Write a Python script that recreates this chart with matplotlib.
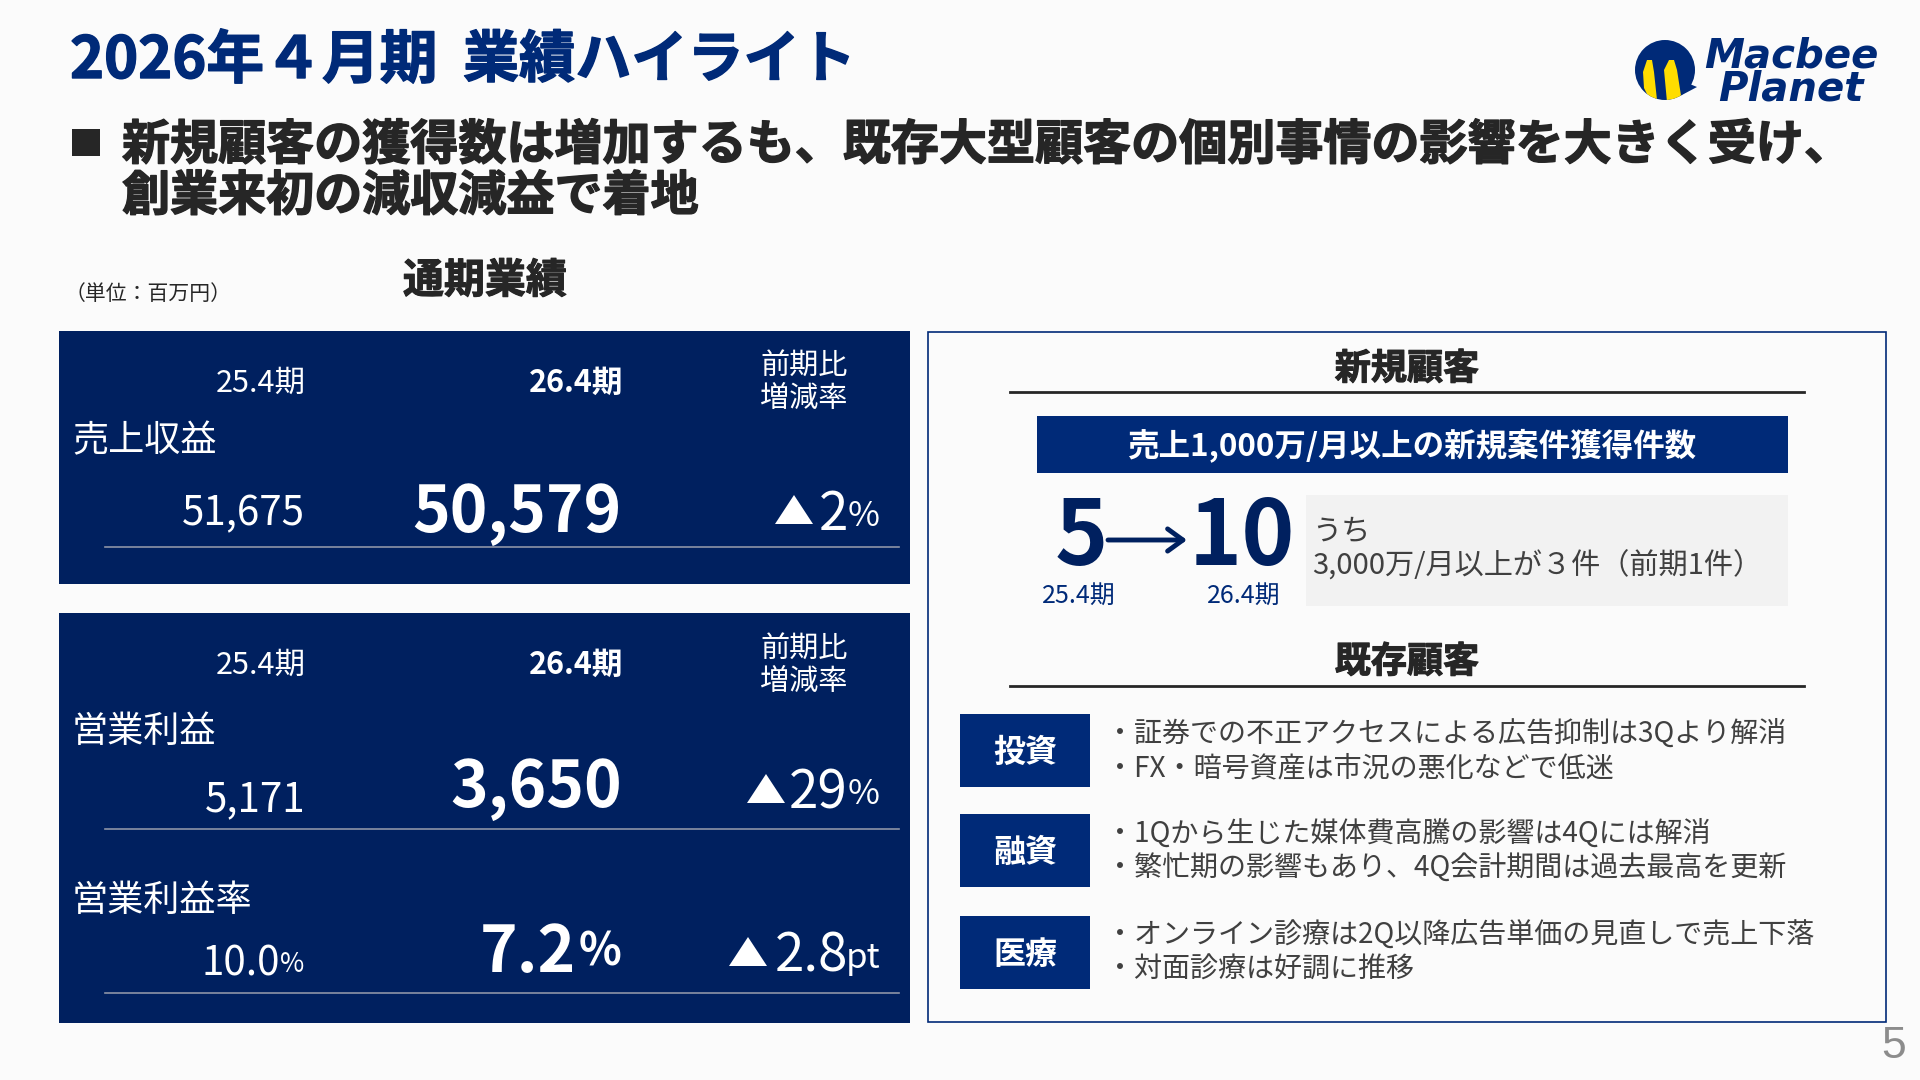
import matplotlib
matplotlib.use('Agg')
import matplotlib.pyplot as plt
import matplotlib.patheffects as pe
from matplotlib.patches import Rectangle, Circle, Polygon

plt.rcParams['font.family'] = ['Noto Sans CJK JP', 'DejaVu Sans']

# slide text and figures
title = ['2026年４月期', '業績ハイライト']
headline = ['新規顧客の獲得数は増加するも、既存大型顧客の個別事情の影響を大きく受け、', '創業来初の減収減益で着地']
unit = '（単位：百万円）'
section = '通期業績'
prev_label = '25.4期'
curr_label = '26.4期'
diff_label = ['前期比', '増減率']
metrics = ['売上収益', '営業利益', '営業利益率']
prev_vals = ['51,675', '5,171', '10.0']
curr_vals = ['50,579', '3,650', '7.2']
diff_vals = ['2', '29', '2.8']
diff_units = ['%', '%', 'pt']

new_title = '新規顧客'
new_bar = '売上1,000万/月以上の新規案件獲得件数'
new_prev = '5'
new_curr = '10'
new_note = ['うち', '3,000万/月以上が３件（前期1件）']
old_title = '既存顧客'
tags = ['投資', '融資', '医療']
tag_notes = [
    ['・証券での不正アクセスによる広告抑制は3Qより解消', '・FX・暗号資産は市況の悪化などで低迷'],
    ['・1Qから生じた媒体費高騰の影響は4Qには解消', '・繁忙期の影響もあり、4Q会計期間は過去最高を更新'],
    ['・オンライン診療は2Q以降広告単価の見直しで売上下落', '・対面診療は好調に推移'],
]

NAVY = '#00205f'
BLUE = '#002a78'
INK = '#262626'
BG = '#fbfbfb'

fig = plt.figure(figsize=(19.2, 10.8), dpi=100, facecolor=BG)
ax = fig.add_axes([0, 0, 1, 1])
ax.set_xlim(0, 1920)
ax.set_ylim(1080, 0)
ax.axis('off')


def t(x, y, s, size, color=INK, ha='left', weight='regular', heavy=0, **kw):
    txt = ax.text(x, y + 3, s, fontsize=size, color=color, ha=ha, va='center', fontweight=weight, **kw)
    if heavy:
        # the slide's headings are set heavier than plain bold
        txt.set_path_effects([pe.withStroke(linewidth=heavy, foreground=color)])
    return txt


def box(x0, y0, x1, y1, **kw):
    ax.add_patch(Rectangle((x0, y0), x1 - x0, y1 - y0, **kw))


# header
t(70, 58, title[0], 41.6, BLUE, weight='bold', heavy=1)
t(463, 58, title[1], 40.4, BLUE, weight='bold', heavy=1)
box(72, 129, 100, 156, color=INK, lw=0)
t(122, 142, headline[0], 34.6, INK, weight='bold', heavy=1)
t(122, 193, headline[1], 34.6, INK, weight='bold', heavy=1)
t(485, 278, section, 29.5, INK, ha='center', weight='bold', heavy=0.8)
t(65, 291, unit, 15, INK)
t(1894, 1044, '5', 32, '#8c8c8c', ha='center', family='Liberation Sans')

# logo
disc = Circle((1665, 70), 30, color=BLUE, lw=0)
ax.add_patch(disc)
ax.add_patch(Polygon([(1680, 80), (1697, 87), (1680, 96)], color=BLUE, lw=0))
for pts in ([(1643, 72), (1647, 60), (1652, 60), (1654, 72), (1657, 100), (1650, 100), (1644, 88)],
            [(1664, 70), (1669, 60), (1674, 60), (1677, 70), (1682, 102), (1667, 102)]):
    stripe = Polygon(pts, color='#ffdd00', lw=0)
    ax.add_patch(stripe)
    stripe.set_clip_path(disc)
t(1791, 70, 'Macbee\nPlanet', 29, BLUE, ha='center', weight='bold', style='oblique',
  family='DejaVu Sans', linespacing=0.78)

# left panels
box(59, 331, 910, 584, color=NAVY, lw=0)
box(59, 613, 910, 1023, color=NAVY, lw=0)
for hy, dy in ((380, (364, 396)), (662, (647, 679))):
    t(306, hy, prev_label, 22, 'white', ha='right')
    t(623, hy, curr_label, 22, 'white', ha='right', weight='bold')
    t(804, dy[0], diff_label[0], 21, 'white', ha='center')
    t(804, dy[1], diff_label[1], 21, 'white', ha='center')

label_y = [438, 729, 898]
prev_y = [511, 797, 961]
curr_y = [510, 785, 950]
diff_y = [511, 790, 953]
rule_y = [547, 829, 993]
tri_x = [775, 747, 729]
for i in range(3):
    t(72, label_y[i], metrics[i], 26, 'white')
    if i == 2:
        t(304, prev_y[i], '%', 19, 'white', ha='right')
        t(280, prev_y[i], prev_vals[i], 29, 'white', ha='right')
        t(621, curr_y[i], '%', 32, 'white', ha='right', weight='bold')
        t(576, curr_y[i], curr_vals[i], 46, 'white', ha='right', weight='bold')
    else:
        t(305, prev_y[i], prev_vals[i], 29, 'white', ha='right')
        t(622, curr_y[i], curr_vals[i], 46, 'white', ha='right', weight='bold')
    t(880, diff_y[i] + 2, diff_units[i], 25, 'white', ha='right')
    t(848, diff_y[i], diff_vals[i], 38, 'white', ha='right')
    tx = tri_x[i]
    ax.add_patch(Polygon([(tx, diff_y[i] + 13), (tx + 38, diff_y[i] + 13), (tx + 19, diff_y[i] - 16)], color='white', lw=0))
    ax.plot([105, 899], [rule_y[i], rule_y[i]], color='#8d94a6', lw=1.2)

# right panel
box(928, 332, 1886, 1022, fc=BG, ec=BLUE, lw=1.2)
t(1407, 366, new_title, 26, INK, ha='center', weight='bold', heavy=0.8)
ax.plot([1010, 1804], [392, 392], color=INK, lw=2)
box(1037, 416, 1788, 473, color=BLUE, lw=0)
t(1412, 442, new_bar, 22.7, 'white', ha='center', weight='bold')
t(1081, 535, new_prev, 65, NAVY, ha='center', weight='bold')
t(1242, 535, new_curr, 65, NAVY, ha='center', weight='bold')
ax.annotate('', xy=(1187, 540), xytext=(1108, 540),
            arrowprops=dict(arrowstyle='->,head_length=1.1,head_width=0.8', color=NAVY, lw=3.5, shrinkA=0, shrinkB=0))
t(1079, 593, prev_label, 18, BLUE, ha='center')
t(1244, 593, curr_label, 18, BLUE, ha='center')
box(1306, 495, 1788, 606, color='#f2f2f2', lw=0)
t(1312, 529, new_note[0], 21, '#404040')
t(1312, 563, new_note[1], 21, '#404040')

t(1407, 659, old_title, 26, INK, ha='center', weight='bold', heavy=0.8)
ax.plot([1010, 1804], [686, 686], color=INK, lw=2)
tag_top = [714, 814, 916]
for i in range(3):
    box(960, tag_top[i], 1090, tag_top[i] + 73, color=BLUE, lw=0)
    t(1025, tag_top[i] + 36, tags[i], 23, 'white', ha='center', weight='bold')
    t(1106, tag_top[i] + 17, tag_notes[i][0], 20.2, '#404040')
    t(1106, tag_top[i] + 51, tag_notes[i][1], 20.2, '#404040')

fig.savefig('out.png', dpi=100, facecolor=BG)
